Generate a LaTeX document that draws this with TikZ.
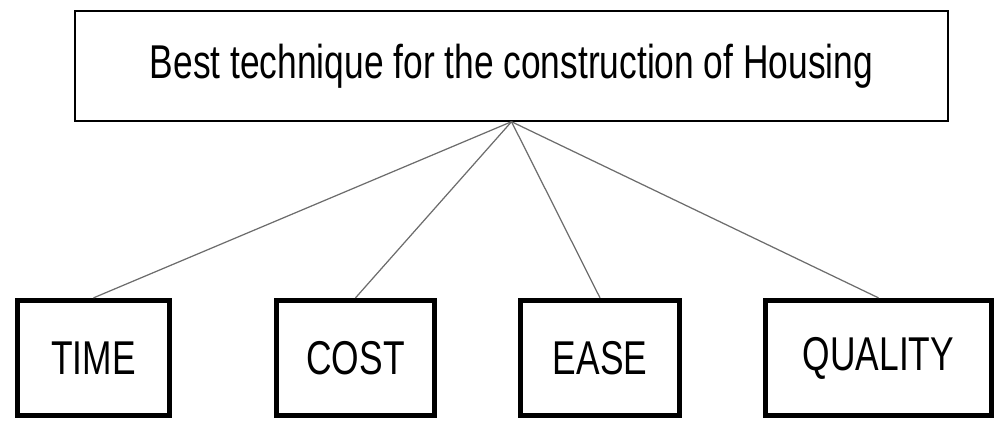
\documentclass[tikz,border=0pt]{standalone}
\usepackage{fontspec}
\setmainfont{Liberation Sans}[FakeStretch=0.745]
\usetikzlibrary{positioning}
\tikzstyle{goal} = [rectangle, minimum width=17.46cm, minimum height=2.2cm, text centered, draw=black, line width=0.8pt, font=\fontsize{27}{32}\selectfont]
\tikzstyle{crit} = [rectangle, minimum height=2.3cm, text centered, draw=black, line width=3pt, font=\fontsize{27}{32}\selectfont]
\tikzstyle{link} = [gray!85!black, line width=0.7pt]

\begin{document}
\begin{tikzpicture}
\useasboundingbox (0,0) rectangle (20,8.42);

\node[goal] (best) at (10.23,7.1) {\raisebox{-2pt}{Best technique for the construction of Housing}};

\node[crit, minimum width=3.04cm] (time) at (1.87,1.26) {TIME};
\node[crit, minimum width=3.16cm] (cost) at (7.11,1.26) {COST};
\node[crit, minimum width=3.18cm] (ease) at (12.0,1.26) {EASE};
\node[crit, minimum width=4.52cm] (quality) at (17.57,1.26) {QUALITY};

\foreach \c in {time,cost,ease,quality}
	\draw[link] (best.south) -- (\c.north);
\end{tikzpicture}
\end{document}
